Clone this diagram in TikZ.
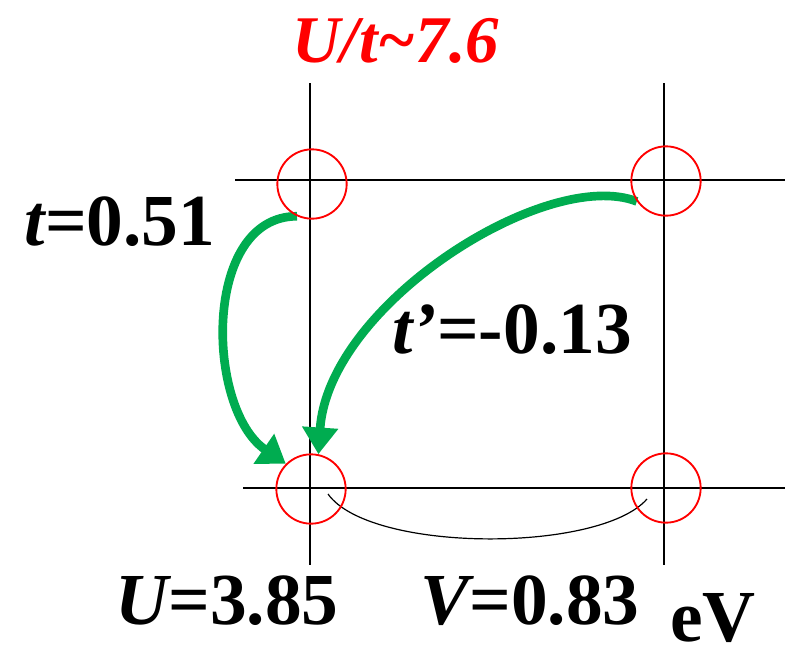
\documentclass[tikz,border=0pt]{standalone}
\usepackage{fontspec}
\setmainfont{Liberation Serif}
\usepackage{xcolor}
\usetikzlibrary{
    arrows.meta,
    calc,
    backgrounds
}
\definecolor{hopgreen}{RGB}{0,172,80}
\tikzset{
    site/.style={
        draw=red,
        circle,
        line width=1.4pt,
        minimum size=52pt,
        inner sep=0pt
    }
}
\tikzset{
    bond/.style={
        draw=black,
        line width=1.2pt
    }
}
\tikzset{
    hopping/.style={
        draw=hopgreen,
        line width=6.5pt,
        -{Triangle[length=20pt,width=26pt]}
    }
}
\tikzset{
    coulomb/.style={
        draw=black,
        line width=0.9pt
    }
}
\tikzset{
    param/.style={
        anchor=base,
        inner sep=0pt,
        font=\fontsize{55}{60}\selectfont\bfseries
    }
}

\begin{document}
\begin{tikzpicture}[
    x=0.75pt,
    y=-0.75pt
]
\useasboundingbox (0,0) rectangle (785,647);

% lattice sites
\node[site] (s1) at (312,184) {};
\node[site] (s2) at (666,181) {};
\node[site] (s3) at (311,489) {};
\node[site] (s4) at (666,488) {};

\begin{scope}[on background layer]
\draw[bond] (310,83) -- (310,565);
\draw[bond] (664,83) -- (664,565);
\draw[bond] (235,180) -- (785,180);
\draw[bond] (243,488) -- (785,488);

\draw[hopping] (s1.245) .. controls +(-95,0) and +(-80,-55) .. (s3.135);
\draw[hopping] (s2.215) .. controls +(-90,-35) and +(10,-150) .. (s3.78);

\draw[coulomb] ($(s3)+(17,5)$) .. controls +(42,59) and +(-47,54) .. ($(s4)+(-19,11)$);
\end{scope}

% parameters
\node[param, text=red, font=\fontsize{50}{55}\selectfont\bfseries] (ratio) at (396,62)
    {\itshape U/t\textasciitilde7.6};
\node[param] (tlabel) at (120,245) {{\itshape t}=0.51};
\node[param] (tplabel) at (512,353) {{\itshape t’}=-0.13};
\node[param] (Ulabel) at (227,624) {{\itshape U}=3.85};
\node[param] (Vlabel) at (530,624) {{\itshape V}=0.83};
\node[param] (unit) at (713,641) {eV};

\end{tikzpicture}
\end{document}
